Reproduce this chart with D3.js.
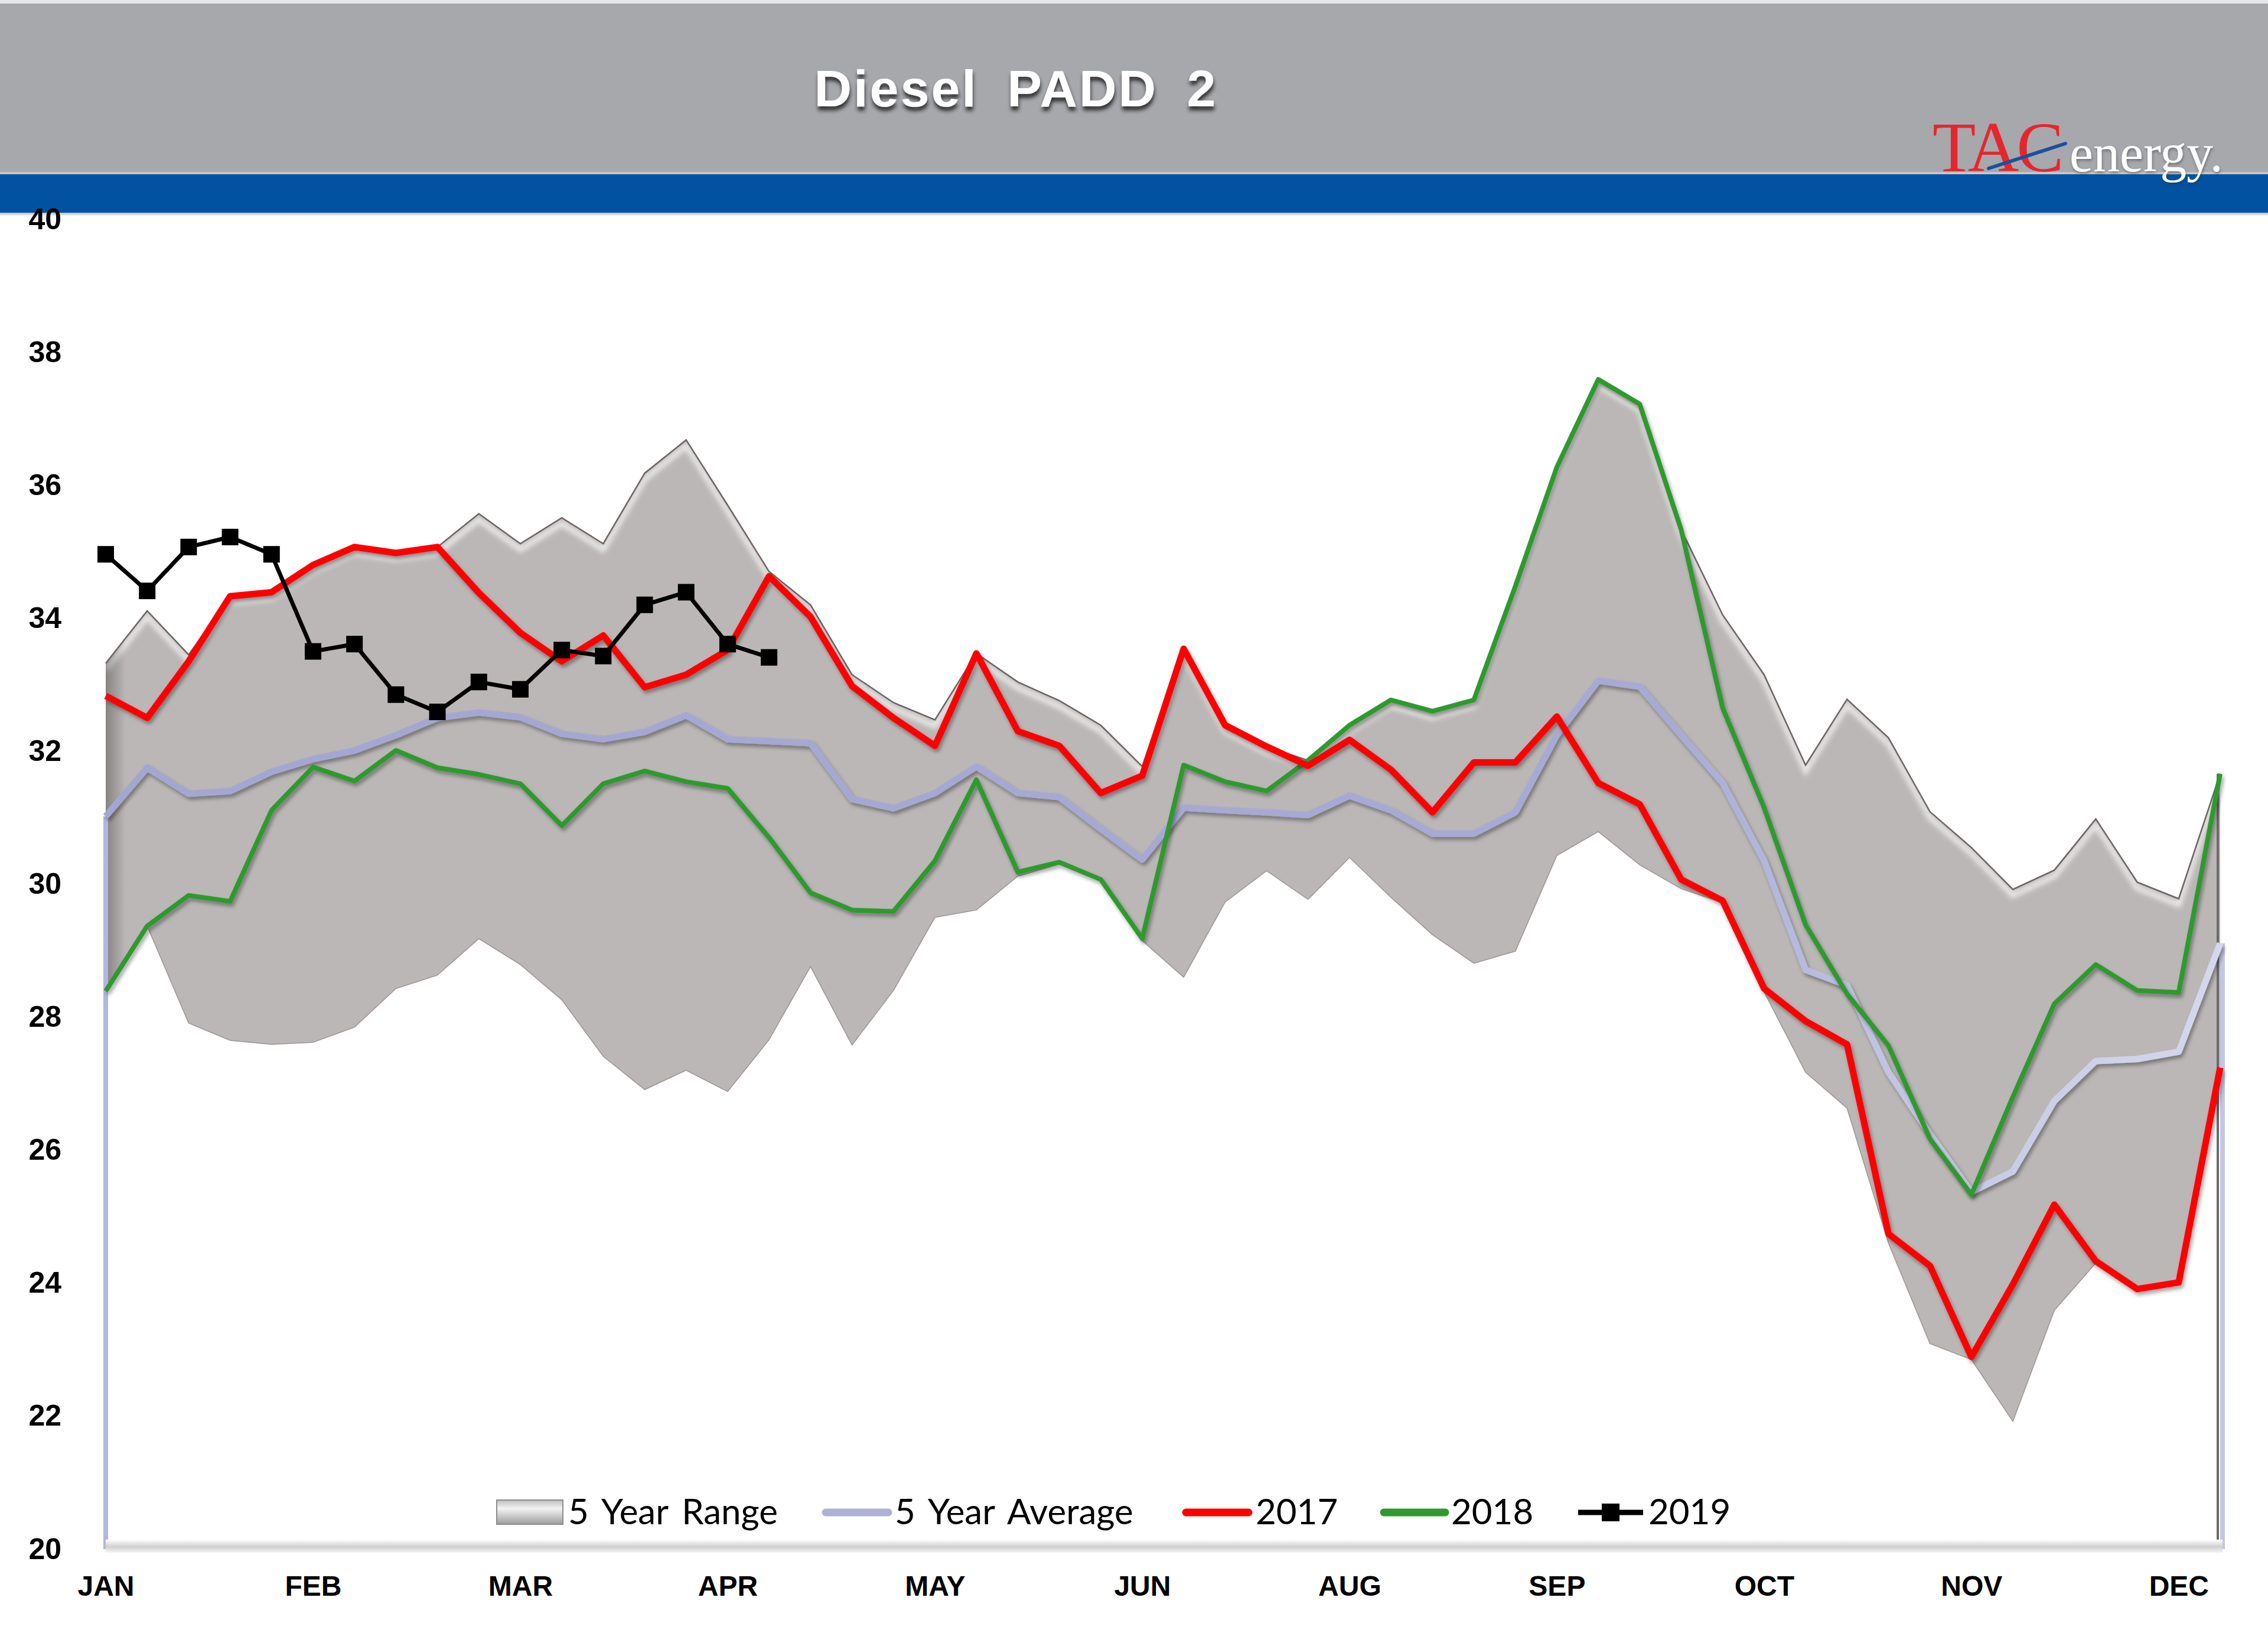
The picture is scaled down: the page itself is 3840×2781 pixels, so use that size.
<!DOCTYPE html>
<html><head><meta charset="utf-8">
<script src="https://cdn.jsdelivr.net/npm/d3@7"></script>
<style>html,body{margin:0;padding:0;background:#fff;} svg{display:block;}</style>
</head><body>
<svg id="c" width="3840" height="2781"></svg>
<script>
// ---------------- DATA ----------------
const weekIndex = d3.range(52);
const monthLabels = ["JAN","FEB","MAR","APR","MAY","JUN","AUG","SEP","OCT","NOV","DEC"];
const monthWeeks = [0,5,10,15,20,25,30,35,40,45,50];
const yTicks = [20,22,24,26,28,30,32,34,36,38,40];

const rangeMax = [33.32,34.11,33.45,34.33,34.39,34.80,35.07,34.98,35.07,35.57,
  35.12,35.51,35.12,36.18,36.68,35.70,34.70,34.20,33.15,32.73,
  32.47,33.47,33.04,32.76,32.39,31.77,33.54,32.39,32.07,31.86,
  32.39,32.77,32.60,32.77,34.48,36.27,37.59,37.22,35.33,34.05,
  33.15,31.79,32.78,32.20,31.09,30.55,29.92,30.21,30.98,30.03,
  29.78,31.66];
const rangeMin = [28.39,29.37,27.91,27.65,27.59,27.62,27.85,28.43,28.63,29.18,
  28.79,28.26,27.41,26.91,27.20,26.88,27.66,28.76,27.58,28.40,
  29.50,29.61,30.12,30.30,30.05,29.15,28.60,29.73,30.20,29.77,
  30.40,29.80,29.24,28.81,28.99,30.43,30.79,30.29,29.93,29.72,
  28.38,27.17,26.63,24.60,23.09,22.85,21.92,23.59,24.30,23.88,
  23.98,27.20];
const avg5 = [31.02,31.75,31.36,31.40,31.69,31.88,32.01,32.24,32.50,32.58,
  32.51,32.26,32.18,32.29,32.54,32.18,32.15,32.12,31.28,31.14,
  31.37,31.77,31.37,31.31,30.83,30.37,31.15,31.11,31.08,31.04,
  31.33,31.11,30.76,30.76,31.08,32.24,33.06,32.97,32.24,31.52,
  30.35,28.71,28.48,27.17,26.24,25.37,25.68,26.74,27.34,27.37,
  27.48,29.11];
const y2017 = [32.83,32.50,33.35,34.33,34.39,34.80,35.07,34.98,35.07,34.38,
  33.78,33.35,33.74,32.96,33.15,33.52,34.63,34.02,32.98,32.50,
  32.08,33.47,32.30,32.08,31.37,31.63,33.54,32.39,32.07,31.78,
  32.17,31.72,31.08,31.83,31.83,32.52,31.52,31.20,30.07,29.75,
  28.43,27.94,27.59,24.74,24.26,22.89,23.98,25.18,24.33,23.91,
  24.01,27.24];
const y2018 = [28.39,29.37,29.83,29.74,31.11,31.76,31.55,32.01,31.75,31.65,
  31.51,30.88,31.51,31.70,31.54,31.44,30.70,29.87,29.61,29.59,
  30.35,31.57,30.18,30.33,30.07,29.18,31.79,31.54,31.40,31.86,
  32.39,32.77,32.60,32.77,34.48,36.27,37.59,37.22,35.33,32.65,
  31.15,29.39,28.35,27.57,26.17,25.33,26.80,28.20,28.79,28.40,
  28.37,31.66];
const y2019 = [34.96,34.41,35.07,35.22,34.96,33.50,33.61,32.85,32.59,33.04,
  32.93,33.52,33.43,34.20,34.39,33.61,33.41];

const legendLabels = ["5 Year Range","5 Year Average","2017","2018","2019"];

// ---------------- SETUP ----------------
const W = 3840, H = 2781;
const svg = d3.select("#c");
const defs = svg.append("defs");

function shadowFilter(id, dx, dy, sd, op, color){
  const f = defs.append("filter").attr("id", id)
    .attr("x","-20%").attr("y","-20%").attr("width","140%").attr("height","140%");
  f.append("feDropShadow").attr("dx",dx).attr("dy",dy).attr("stdDeviation",sd)
    .attr("flood-color",color).attr("flood-opacity",op);
}
shadowFilter("titleShadow", 1, 7, 3, 0.85, "#222");
shadowFilter("logoShadow", 1, 3, 2, 0.5, "#333");
shadowFilter("lineShadow", 3, 5, 3, 0.35, "#000");
defs.append("filter").attr("id","blur").append("feGaussianBlur").attr("stdDeviation",4);

const bandGrad = defs.append("linearGradient").attr("id","bandBelow")
  .attr("x1",0).attr("y1",0).attr("x2",0).attr("y2",1);
bandGrad.append("stop").attr("offset","0%").attr("stop-color","#b9b9bd");
bandGrad.append("stop").attr("offset","100%").attr("stop-color","#ffffff");

const axisGrad = defs.append("linearGradient").attr("id","axisGrad")
  .attr("x1",0).attr("y1",0).attr("x2",0).attr("y2",1);
axisGrad.append("stop").attr("offset","0%").attr("stop-color","#ffffff");
axisGrad.append("stop").attr("offset","55%").attr("stop-color","#cfcfcf");
axisGrad.append("stop").attr("offset","100%").attr("stop-color","#f4f4f4");

const swGrad = defs.append("linearGradient").attr("id","swGrad")
  .attr("x1",0).attr("y1",0).attr("x2",0).attr("y2",1);
swGrad.append("stop").attr("offset","0%").attr("stop-color","#bdbdbd");
swGrad.append("stop").attr("offset","35%").attr("stop-color","#f3f3f3");
swGrad.append("stop").attr("offset","100%").attr("stop-color","#9d9d9d");

const leftShade = defs.append("linearGradient").attr("id","leftShade")
  .attr("x1",0).attr("y1",0).attr("x2",1).attr("y2",0);
leftShade.append("stop").attr("offset","0%").attr("stop-color","#000").attr("stop-opacity",0.28);
leftShade.append("stop").attr("offset","100%").attr("stop-color","#000").attr("stop-opacity",0);

const x = d3.scaleLinear().domain([0,51]).range([179,3759]);
const y = d3.scaleLinear().domain([20,40]).range([2622,371]);

const avgGrad = defs.append("linearGradient").attr("id","avgGrad")
  .attr("gradientUnits","userSpaceOnUse")
  .attr("x1",x(0)).attr("y1",0).attr("x2",x(51)).attr("y2",0);
avgGrad.append("stop").attr("offset","0%").attr("stop-color","#a4a6d2");
avgGrad.append("stop").attr("offset","74%").attr("stop-color","#a8aad5");
avgGrad.append("stop").attr("offset","86%").attr("stop-color","#c6c8e5");
avgGrad.append("stop").attr("offset","100%").attr("stop-color","#d5d7ed");

// ---------------- HEADER ----------------
svg.append("rect").attr("x",0).attr("y",0).attr("width",W).attr("height",6).attr("fill","#e6e6e8");
svg.append("rect").attr("x",0).attr("y",6).attr("width",W).attr("height",285).attr("fill","#a7a8ac");
svg.append("rect").attr("x",0).attr("y",291).attr("width",W).attr("height",4).attr("fill","#cbc3c2");
svg.append("rect").attr("x",0).attr("y",295).attr("width",W).attr("height",65).attr("fill","#0153a1");
svg.append("rect").attr("x",0).attr("y",360).attr("width",W).attr("height",6).attr("fill","url(#bandBelow)");

svg.append("text").attr("x",1720).attr("y",180)
  .attr("text-anchor","middle")
  .style("font-family","'Liberation Sans', Arial, sans-serif")
  .style("font-weight","bold").style("font-size","88px")
  .style("letter-spacing","3px").style("word-spacing","22px")
  .attr("fill","#ffffff").attr("filter","url(#titleShadow)")
  .text("Diesel PADD 2");

// logo
const logo = svg.append("g");
logo.append("text").attr("x",3272).attr("y",290)
  .style("font-family","'Liberation Serif','Times New Roman',serif")
  .style("font-size","120px").style("letter-spacing","-4px")
  .attr("fill","#e5272d").text("TAC");
logo.append("text").attr("x",3504).attr("y",290)
  .style("font-family","'Liberation Serif','Times New Roman',serif")
  .style("font-size","90px")
  .attr("fill","#ffffff").attr("filter","url(#logoShadow)").text("energy.");
logo.append("line").attr("x1",3367).attr("y1",285).attr("x2",3497).attr("y2",243)
  .attr("stroke","#1f4e9c").attr("stroke-width",6).attr("stroke-linecap","round");

// ---------------- PLOT ----------------
const plot = svg.append("g");

const areaGen = d3.area().x((d,i)=>x(i)).y0((d,i)=>y(rangeMin[i])).y1(d=>y(d));
const lineGen = d3.line().x((d,i)=>x(i)).y(d=>y(d));

defs.append("clipPath").attr("id","areaClip").append("path").attr("d", areaGen(rangeMax));

plot.append("path").attr("d", areaGen(rangeMax)).attr("fill","#bab7b6");
// bevel highlight inside top edge
const bev = plot.append("g").attr("clip-path","url(#areaClip)");
bev.append("path").attr("d", lineGen(rangeMax)).attr("transform","translate(0,10)")
  .attr("fill","none").attr("stroke","#ffffff").attr("stroke-width",9)
  .attr("stroke-opacity",0.7).attr("filter","url(#blur)");
bev.append("rect").attr("x",x(0)).attr("y",y(40)).attr("width",34).attr("height",y(20)-y(40))
  .attr("fill","url(#leftShade)");
// top and bottom edges
plot.append("path").attr("d", lineGen(rangeMax)).attr("fill","none")
  .attr("stroke","#6e6363").attr("stroke-width",2.5);
plot.append("path").attr("d", lineGen(rangeMin)).attr("fill","none")
  .attr("stroke","#9d9494").attr("stroke-width",1.5);

// right edge of range and vertical average drops
plot.append("line").attr("x1",x(51)-4).attr("x2",x(51)-4)
  .attr("y1",y(rangeMax[51])).attr("y2",y(20))
  .attr("stroke","#6a6a6a").attr("stroke-width",4);
plot.append("line").attr("x1",x(0)).attr("x2",x(0))
  .attr("y1",y(avg5[0])).attr("y2",y(20))
  .attr("stroke","#b4b6dd").attr("stroke-width",8);
plot.append("line").attr("x1",x(51)+4).attr("x2",x(51)+4)
  .attr("y1",y(avg5[51])).attr("y2",y(20))
  .attr("stroke","#c4c6e4").attr("stroke-width",8);

// bottom axis band
plot.append("rect").attr("x",x(0)).attr("y",2606).attr("width",x(51)-x(0)+4).attr("height",22)
  .attr("fill","url(#axisGrad)");

// series lines
plot.append("path").attr("d", lineGen(avg5)).attr("fill","none")
  .attr("stroke","url(#avgGrad)").attr("stroke-width",11).attr("stroke-linejoin","round")
  .attr("filter","url(#lineShadow)");
plot.append("path").attr("d", lineGen(y2018)).attr("fill","none")
  .attr("stroke","#2e9a2e").attr("stroke-width",8).attr("stroke-linejoin","round")
  .attr("filter","url(#lineShadow)");
plot.append("path").attr("d", lineGen(y2017)).attr("fill","none")
  .attr("stroke","#ff0000").attr("stroke-width",11).attr("stroke-linejoin","round")
  .attr("filter","url(#lineShadow)");
plot.append("path").attr("d", lineGen(y2019)).attr("fill","none")
  .attr("stroke","#000000").attr("stroke-width",7).attr("stroke-linejoin","round");
plot.selectAll("rect.m19").data(y2019).enter().append("rect").attr("class","m19")
  .attr("x",(d,i)=>x(i)-14).attr("y",d=>y(d)-14).attr("width",28).attr("height",28)
  .attr("fill","#000");

// ---------------- AXES ----------------
const yAxis = svg.append("g").attr("transform",`translate(${x(0)},0)`)
  .call(d3.axisLeft(y).tickValues(yTicks).tickSize(0).tickPadding(75).tickFormat(d3.format("d")));
yAxis.select(".domain").remove();
yAxis.selectAll("text")
  .style("font-family","'Liberation Sans', Arial, sans-serif")
  .style("font-weight","bold").style("font-size","50px").attr("fill","#000");

const xAxis = svg.append("g").attr("transform",`translate(0,${y(20)})`)
  .call(d3.axisBottom(x).tickValues(monthWeeks).tickSize(0).tickFormat((d,i)=>monthLabels[i]));
xAxis.select(".domain").remove();
xAxis.selectAll("text").attr("y",79).attr("dy",0)
  .style("font-family","'Liberation Sans', Arial, sans-serif")
  .style("font-weight","bold").style("font-size","48px").attr("fill","#000");

// ---------------- LEGEND ----------------
const lg = svg.append("g");
const ly = 2560;
const lfont = sel => sel.style("font-family","Lato, 'Open Sans', sans-serif")
  .style("font-size","60px").style("word-spacing","8px").attr("fill","#000");
// range
lg.append("rect").attr("x",841).attr("y",ly-21).attr("width",112).attr("height",41)
  .attr("fill","url(#swGrad)").attr("stroke","#8c8c8c").attr("stroke-width",2);
lg.append("text").attr("x",962).attr("y",ly+20).text(legendLabels[0]).call(lfont);
// avg
lg.append("line").attr("x1",1398).attr("x2",1504).attr("y1",ly).attr("y2",ly)
  .attr("stroke","#aeb0d8").attr("stroke-width",13).attr("stroke-linecap","round");
lg.append("text").attr("x",1515).attr("y",ly+20).text(legendLabels[1]).call(lfont);
// 2017
lg.append("line").attr("x1",2008).attr("x2",2114).attr("y1",ly).attr("y2",ly)
  .attr("stroke","#ff0000").attr("stroke-width",13).attr("stroke-linecap","round");
lg.append("text").attr("x",2126).attr("y",ly+20).text(legendLabels[2]).call(lfont);
// 2018
lg.append("line").attr("x1",2343).attr("x2",2447).attr("y1",ly).attr("y2",ly)
  .attr("stroke","#2e9a2e").attr("stroke-width",13).attr("stroke-linecap","round");
lg.append("text").attr("x",2457).attr("y",ly+20).text(legendLabels[3]).call(lfont);
// 2019
lg.append("line").attr("x1",2672).attr("x2",2782).attr("y1",ly).attr("y2",ly)
  .attr("stroke","#000").attr("stroke-width",9);
lg.append("rect").attr("x",2727-15).attr("y",ly-15).attr("width",30).attr("height",30).attr("fill","#000");
lg.append("text").attr("x",2791).attr("y",ly+20).text(legendLabels[4]).call(lfont);
</script>
</body></html>
